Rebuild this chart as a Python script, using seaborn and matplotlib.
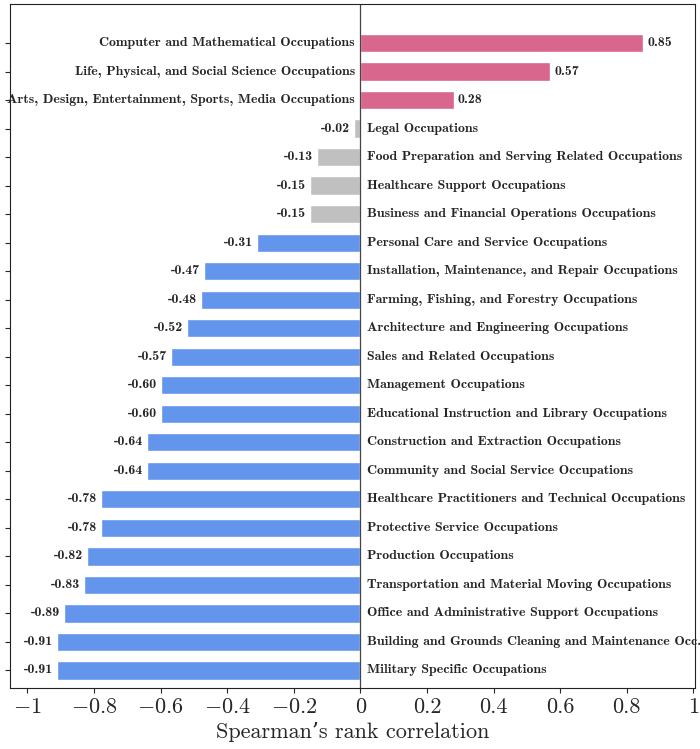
import matplotlib
matplotlib.use("Agg")
import matplotlib.pyplot as plt
import seaborn as sns
import pandas as pd

categories = ["Computer and Mathematical Occupations",
"Life, Physical, and Social Science Occupations",
"Arts, Design, Entertainment, Sports, Media Occupations",
"Legal Occupations",
"Food Preparation and Serving Related Occupations",
"Healthcare Support Occupations",
"Business and Financial Operations Occupations",
"Personal Care and Service Occupations",
"Installation, Maintenance, and Repair Occupations",
"Farming, Fishing, and Forestry Occupations",
"Architecture and Engineering Occupations",
"Sales and Related Occupations",
"Management Occupations",
"Educational Instruction and Library Occupations",
"Construction and Extraction Occupations",
"Community and Social Service Occupations",
"Healthcare Practitioners and Technical Occupations",
"Protective Service Occupations",
"Production Occupations",
"Transportation and Material Moving Occupations",
"Office and Administrative Support Occupations",
"Building and Grounds Cleaning and Maintenance Occ.",
"Military Specific Occupations"]
values = [0.85,0.57,0.28,-0.02,-0.13,-0.15,-0.15,-0.31,-0.47,-0.48,-0.52,-0.57,-0.60,-0.60,-0.64,-0.64,-0.78,-0.78,-0.82,-0.83,-0.89,-0.91,-0.91]
xticks = [-1,-0.8,-0.6,-0.4,-0.2,0,0.2,0.4,0.6,0.8,1]

def col(v):
    if v >= 0.2: return "#d9668c"
    if v > -0.2: return "#c0c0c0"
    return "#6495ed"

df = pd.DataFrame({"cat": categories, "val": values})
sns.set_style("ticks")
plt.rcParams["mathtext.fontset"] = "cm"
plt.rcParams["axes.formatter.use_mathtext"] = True
plt.rcParams["font.family"] = ["cmr10", "DejaVu Serif"]

fig = plt.figure(figsize=(7, 7.49), dpi=100)
ax = fig.add_axes([0.014, 0.082, 0.979, 0.912])
sns.barplot(data=df, x="val", y="cat", hue="cat", palette=[col(v) for v in values],
            legend=False, width=0.64, ax=ax, saturation=1)
ax.set_xlim(-1.053, 1.005)
ax.set_ylim(len(values)-0.4, -1.35)
ax.axvline(0, color="#444444", lw=0.9)
ax.set_yticks(range(len(values)))
ax.set_yticklabels([])
ax.set_ylabel("")
ax.set_xticks(xticks)
ax.set_xticklabels([("$-$" if t < 0 else "") + ("%g" % abs(t)) for t in xticks], fontsize=16)
ax.set_xlabel("Spearman\u2019s rank correlation", fontsize=16)
for s in ax.spines.values():
    s.set_linewidth(0.8); s.set_color("#222222")
lf = dict(fontsize=10, family=["cmb10", "DejaVu Serif"], va="center")
for i, (c, v) in enumerate(zip(categories, values)):
    if v >= 0:
        ax.text(-0.017, i, c, ha="right", **lf)
        ax.text(v + 0.012, i, "%.2f" % v, ha="left", **lf)
    else:
        ax.text(0.02, i, c, ha="left", **lf)
        ax.text(v - 0.012, i, "-%.2f" % abs(v), ha="right", **lf)
fig.savefig("out.png", dpi=100)
